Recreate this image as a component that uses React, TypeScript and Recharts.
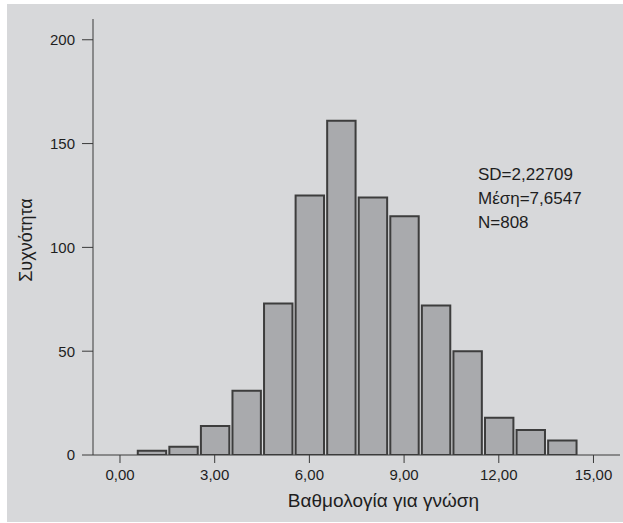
import React from 'react';
import { BarChart, Bar, XAxis, YAxis } from 'recharts';

const binCenters = [1, 2, 3, 4, 5, 6, 7, 8, 9, 10, 11, 12, 13, 14];
const frequencies = [2, 4, 14, 31, 73, 125, 161, 124, 115, 72, 50, 18, 12, 7];
const xTicks = [0, 3, 6, 9, 12, 15];
const yTicks = [0, 50, 100, 150, 200];
const statsLines = ['SD=2,22709', 'Μέση=7,6547', 'N=808'];
const xTitle = 'Βαθμολογία για γνώση';
const yTitle = 'Συχνότητα';

const data = binCenters.map((x, i) => ({ x, count: frequencies[i] }));

const W = 623;
const H = 523;
const plotLeft = 93;
const plotRight = 620;
const plotTop = 19;
const plotBottom = 455;
const xDomain: [number, number] = [-0.855, 15.84];
const yDomain: [number, number] = [0, 210];
const barWidth = (plotRight - plotLeft) / (xDomain[1] - xDomain[0]);
const xAxisH = 40;

const FONT = '"Liberation Sans", Arial, Helvetica, sans-serif';
const AXIS = '#3a3a3a';
const TEXT = '#1e1e1e';

const fmt = (v: number) => v.toFixed(2).replace('.', ',');

export default function App() {
  return (
    <div style={{ position: 'absolute', left: 0, top: 0, width: W, height: H, background: '#ffffff', fontFamily: FONT }}>
      <div style={{ position: 'absolute', left: 7, top: 4, width: W - 7, height: 518, background: '#d7d8da' }} />
      <div style={{ position: 'absolute', left: 0, top: 0 }}>
        <BarChart
          width={W}
          height={H}
          data={data}
          margin={{ top: plotTop, right: W - plotRight, bottom: H - plotBottom - xAxisH, left: 0 }}
          barCategoryGap={0}
          barGap={0}
        >
          <XAxis
            dataKey="x"
            type="number"
            domain={xDomain}
            ticks={xTicks}
            allowDataOverflow
            tickFormatter={fmt}
            height={xAxisH}
            tickSize={8}
            tickMargin={6}
            stroke={AXIS}
            tick={{ fill: TEXT, fontSize: 15, fontFamily: FONT }}
            tickLine={{ stroke: AXIS }}
          />
          <YAxis
            type="number"
            domain={yDomain}
            ticks={yTicks}
            allowDataOverflow
            width={plotLeft}
            tickSize={11}
            tickMargin={7}
            stroke={AXIS}
            tick={{ fill: TEXT, fontSize: 15, fontFamily: FONT }}
            tickLine={{ stroke: AXIS }}
          />
          <Bar
            dataKey="count"
            fill="#a9aaad"
            stroke="#3d3d3d"
            strokeWidth={2}
            barSize={barWidth}
            isAnimationActive={false}
          />
        </BarChart>
      </div>
      <div style={{ position: 'absolute', left: 478, top: 163, fontSize: 17, lineHeight: '24px', color: TEXT }}>
        {statsLines.map((s) => (
          <div key={s}>{s}</div>
        ))}
      </div>
      <div style={{ position: 'absolute', left: 383.5, top: 501, transform: 'translate(-50%, -50%)', fontSize: 19, color: TEXT, whiteSpace: 'nowrap' }}>
        {xTitle}
      </div>
      <div style={{ position: 'absolute', left: 25.5, top: 240, transform: 'translate(-50%, -50%) rotate(-90deg)', fontSize: 18, color: TEXT, whiteSpace: 'nowrap' }}>
        {yTitle}
      </div>
    </div>
  );
}
